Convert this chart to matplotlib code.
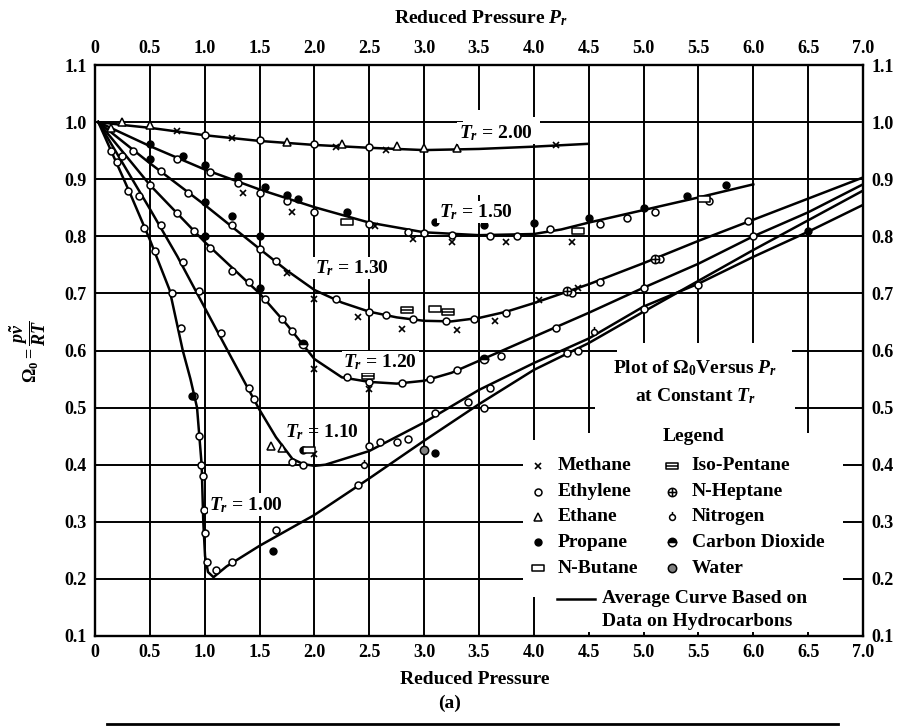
import numpy as np
import matplotlib
matplotlib.use("Agg")
import matplotlib.pyplot as plt
from matplotlib.path import Path
from matplotlib.lines import Line2D

plt.rcParams['font.family'] = 'Liberation Serif'
plt.rcParams['font.weight'] = 'bold'
plt.rcParams['mathtext.fontset'] = 'custom'
plt.rcParams['mathtext.rm'] = 'Liberation Serif:bold'
plt.rcParams['mathtext.it'] = 'Liberation Serif:italic:bold'
plt.rcParams['mathtext.bf'] = 'Liberation Serif:bold'

# ---- average curves (Pr, Omega) ----
pr_200 = [0.03, 0.25, 0.5, 1.0, 1.5, 2.0, 2.5, 3.0, 3.5, 4.0, 4.5]
om_200 = [1.0, 0.995, 0.99, 0.977, 0.967, 0.960, 0.955, 0.951, 0.953, 0.957, 0.962]

pr_150 = [0.03, 0.5, 1.0, 1.5, 2.0, 2.5, 3.0, 3.5, 4.0, 4.25, 4.5, 5.0, 5.5, 6.0]
om_150 = [1.0, 0.958, 0.917, 0.882, 0.851, 0.824, 0.807, 0.802, 0.804, 0.812, 0.824, 0.846, 0.868, 0.891]

pr_130 = [0.03, 0.5, 1.0, 1.5, 1.75, 2.0, 2.25, 2.5, 2.75, 3.0, 3.25, 3.5, 3.75, 4.0,
          4.5, 5.0, 5.5, 6.0, 6.5, 7.0]
om_130 = [1.0, 0.928, 0.855, 0.778, 0.74, 0.706, 0.684, 0.668, 0.658, 0.652, 0.651, 0.657, 0.668, 0.683,
          0.716, 0.753, 0.792, 0.829, 0.866, 0.903]

pr_120 = [0.03, 0.5, 1.0, 1.5, 1.75, 2.0, 2.25, 2.5, 2.75, 3.0, 3.25, 3.5, 4.0, 4.5,
          5.0, 5.5, 6.0, 6.5, 7.0]
om_120 = [1.0, 0.89, 0.79, 0.70, 0.645, 0.585, 0.553, 0.545, 0.542, 0.547, 0.561, 0.582, 0.624, 0.666,
          0.710, 0.752, 0.800, 0.842, 0.891]

pr_110 = [0.03, 0.5, 0.75, 1.0, 1.25, 1.5, 1.65, 1.8, 1.9, 2.0, 2.1, 2.3, 2.5, 3.0, 3.5,
          4.0, 4.5, 5.0, 5.5, 6.0, 6.5, 7.0]
om_110 = [1.0, 0.848, 0.765, 0.675, 0.585, 0.496, 0.448, 0.41, 0.401, 0.398, 0.40, 0.412, 0.424, 0.474, 0.531,
          0.578, 0.621, 0.677, 0.717, 0.764, 0.808, 0.855]

pr_100 = [0.03, 0.32, 0.5, 0.68, 0.8, 0.87, 0.93, 0.972, 0.987, 1.003, 1.03, 1.08, 1.2, 1.5,
          2.0, 2.5, 3.0, 3.5, 4.0, 4.5, 5.0, 5.5, 6.0, 6.5, 7.0]
om_100 = [1.0, 0.875, 0.794, 0.706, 0.60, 0.55, 0.50, 0.40, 0.30, 0.24, 0.212, 0.203, 0.222, 0.258,
          0.312, 0.376, 0.442, 0.506, 0.566, 0.613, 0.668, 0.722, 0.776, 0.828, 0.88]

# ---- data points by gas ----
methane_pr = [0.75, 1.25, 2.2, 2.65, 4.2, 1.35, 1.8, 2.55, 2.9, 3.25, 3.75, 4.35,
              1.75, 2.0, 2.4, 2.8, 3.3, 3.65, 4.05, 4.4, 2.0, 2.5, 2.0]
methane_om = [0.985, 0.972, 0.957, 0.952, 0.960, 0.875, 0.842, 0.818, 0.795, 0.79, 0.79, 0.79,
              0.735, 0.69, 0.658, 0.637, 0.636, 0.652, 0.688, 0.71, 0.567, 0.532, 0.418]

ethylene_pr = [1.0, 1.5, 2.0, 2.5,
               0.75, 1.05, 1.3, 1.5, 1.75, 2.0, 2.5, 2.85, 3.0, 3.25, 3.6, 3.85, 4.15, 4.6, 4.85, 5.1, 5.6,
               0.35, 0.6, 0.85, 1.25, 1.5, 1.65, 2.2, 2.5, 2.65, 2.9, 3.2, 3.45, 3.75, 4.35, 4.6, 5.15, 5.95,
               0.25, 0.5, 0.75, 0.9, 1.05, 1.25, 1.4, 1.55, 1.7, 1.8, 2.3, 2.5, 2.8, 3.05, 3.3, 3.7, 4.2, 5.0, 6.0,
               0.2, 0.4, 0.6, 0.8, 0.95, 1.15, 1.4, 1.45, 1.8, 1.9, 2.5, 2.6, 2.75, 2.85, 3.1, 3.6, 4.3, 5.0,
               0.15, 0.3, 0.45, 0.55, 0.7, 0.78, 0.9, 0.95, 0.97, 0.98, 0.99, 1.0, 1.02, 1.1, 1.25, 1.65,
               2.4, 3.4, 3.55, 4.4, 5.5]
ethylene_om = [0.978, 0.968, 0.961, 0.956,
               0.936, 0.912, 0.893, 0.876, 0.862, 0.842, 0.822, 0.808, 0.805, 0.802, 0.80, 0.80, 0.812, 0.822, 0.832, 0.842, 0.862,
               0.95, 0.915, 0.876, 0.82, 0.778, 0.757, 0.69, 0.668, 0.662, 0.655, 0.652, 0.656, 0.665, 0.70, 0.72, 0.76, 0.826,
               0.94, 0.89, 0.84, 0.81, 0.78, 0.74, 0.72, 0.69, 0.655, 0.635, 0.553, 0.545, 0.543, 0.55, 0.565, 0.59, 0.64, 0.71, 0.80,
               0.93, 0.87, 0.82, 0.755, 0.705, 0.63, 0.535, 0.515, 0.405, 0.40, 0.432, 0.44, 0.44, 0.445, 0.49, 0.535, 0.595, 0.672,
               0.95, 0.88, 0.815, 0.775, 0.70, 0.64, 0.52, 0.45, 0.40, 0.38, 0.32, 0.28, 0.23, 0.215, 0.23, 0.285,
               0.365, 0.51, 0.50, 0.60, 0.715]

ethane_pr = [0.15, 0.25, 0.5, 1.75, 2.25, 2.75, 3.0, 3.3, 1.6, 1.7]
ethane_om = [0.99, 1.0, 0.995, 0.966, 0.961, 0.958, 0.955, 0.955, 0.432, 0.43]

propane_pr = [0.5, 0.8, 1.0, 1.3, 1.55, 1.75, 1.85, 2.3, 3.1, 3.55, 4.0, 4.5, 5.0, 5.4, 5.75,
              0.5, 1.0, 1.5, 1.25, 1.0, 1.5, 1.9, 3.1, 1.62, 0.88, 6.5]
propane_om = [0.962, 0.94, 0.925, 0.905, 0.887, 0.872, 0.865, 0.842, 0.825, 0.82, 0.823, 0.832, 0.85, 0.87, 0.89,
              0.935, 0.86, 0.80, 0.835, 0.80, 0.71, 0.425, 0.42, 0.248, 0.52, 0.81]

butane_pr = [2.3, 3.1, 4.4, 5.55, 1.95]
butane_om = [0.825, 0.672, 0.81, 0.865, 0.425]

isopentane_pr = [2.84, 3.22, 2.49]
isopentane_om = [0.671, 0.668, 0.555]

heptane_pr = [4.3, 5.1]
heptane_om = [0.705, 0.76]

nitrogen_pr = [4.55, 2.45]
nitrogen_om = [0.632, 0.40]

co2_pr = [1.9, 3.55]
co2_om = [0.612, 0.585]

water_pr = [3.0]
water_om = [0.425]

# ---- grid gaps (where the printed chart leaves white space) ----
xgrid = [0.5, 1.0, 1.5, 2.0, 2.5, 3.0, 3.5, 4.0, 4.5, 5.0, 5.5, 6.0, 6.5]
ygrid = [0.2, 0.3, 0.4, 0.5, 0.6, 0.7, 0.8, 0.9, 1.0]
vgaps = {3.5: [(0.872, 1.021)], 4.0: [(0.962, 1.009), (0.168, 0.443)],
         4.5: [(0.107, 0.455)], 5.0: [(0.107, 0.613)], 5.5: [(0.107, 0.613)],
         6.0: [(0.107, 0.613)], 6.5: [(0.107, 0.455)]}
hgaps = {1.0: [(3.35, 4.06)], 0.6: [(4.76, 6.35)], 0.5: [(4.56, 6.38)],
         0.4: [(3.9, 6.82)], 0.3: [(3.9, 6.82)], 0.2: [(3.9, 6.82)]}


def pieces(lo, hi, gaps):
    out, start = [], lo
    for a, b in sorted(gaps):
        out.append((start, a))
        start = b
    out.append((start, hi))
    return out


fig = plt.figure(figsize=(9.01, 7.26), dpi=100)
ax = fig.add_axes([95 / 901, 1 - 636 / 726, (863 - 95) / 901, (636 - 65) / 726])
ax.set_xlim(0, 7)
ax.set_ylim(0.1, 1.1)

for xv in xgrid:
    for a, b in pieces(0.1, 1.1, vgaps.get(xv, [])):
        ax.plot([xv, xv], [a, b], color='k', lw=1.4, zorder=1, solid_capstyle='butt')
for yv in ygrid:
    for a, b in pieces(0, 7, hgaps.get(yv, [])):
        ax.plot([a, b], [yv, yv], color='k', lw=1.4, zorder=1, solid_capstyle='butt')

for px, om in [(pr_200, om_200), (pr_150, om_150), (pr_130, om_130),
               (pr_120, om_120), (pr_110, om_110), (pr_100, om_100)]:
    ax.plot(px, om, color='k', lw=1.8, zorder=2)

# markers
rect = Path([(-1, -0.55), (1, -0.55), (1, 0.55), (-1, 0.55), (-1, -0.55)],
            [Path.MOVETO, Path.LINETO, Path.LINETO, Path.LINETO, Path.CLOSEPOLY])
rect_bar = Path.make_compound_path(rect, Path([(-1, 0), (1, 0)]))
circ_plus = Path.make_compound_path(Path.unit_circle(), Path([(-1, 0), (1, 0)]), Path([(0, -1), (0, 1)]))
circ_stem = Path.make_compound_path(Path.unit_circle(), Path([(0, 1), (0, 1.9)]))

styles = {
    'Methane': dict(marker='x', ms=5, mec='k', mew=1.2),
    'Ethylene': dict(marker='o', ms=5, mfc='white', mec='k', mew=1.1),
    'Ethane': dict(marker='^', ms=6, mfc='white', mec='k', mew=1.1),
    'Propane': dict(marker='o', ms=5, mfc='k', mec='k'),
    'N-Butane': dict(marker=rect, ms=8, mfc='white', mec='k', mew=1.1),
    'Iso-Pentane': dict(marker=rect_bar, ms=8, mfc='white', mec='k', mew=1.1),
    'N-Heptane': dict(marker=circ_plus, ms=6, mfc='white', mec='k', mew=1.1),
    'Nitrogen': dict(marker=circ_stem, ms=8, mfc='white', mec='k', mew=1.1),
    'Carbon Dioxide': dict(marker='o', ms=6, mfc='k', mfcalt='white', fillstyle='top', mec='k', mew=1.1),
    'Water': dict(marker='o', ms=6, mfc='0.5', mec='k', mew=1.1),
}
data = {
    'Methane': (methane_pr, methane_om), 'Ethylene': (ethylene_pr, ethylene_om),
    'Ethane': (ethane_pr, ethane_om), 'Propane': (propane_pr, propane_om),
    'N-Butane': (butane_pr, butane_om), 'Iso-Pentane': (isopentane_pr, isopentane_om),
    'N-Heptane': (heptane_pr, heptane_om), 'Nitrogen': (nitrogen_pr, nitrogen_om),
    'Carbon Dioxide': (co2_pr, co2_om), 'Water': (water_pr, water_om),
}
for name, (px, om) in data.items():
    ax.plot(px, om, ls='none', zorder=3, **styles[name])

# Tr labels
wbox = dict(fc='white', ec='none', pad=1.0)
fs = 14
ax.text(3.65, 0.981, r'$T_r$ = 2.00', fontsize=fs, ha='center', va='center', bbox=wbox, zorder=4)
ax.text(3.47, 0.843, r'$T_r$ = 1.50', fontsize=fs, ha='center', va='center', bbox=wbox, zorder=4)
ax.text(2.34, 0.744, r'$T_r$ = 1.30', fontsize=fs, ha='center', va='center', bbox=wbox, zorder=4)
ax.text(2.6, 0.58, r'$T_r$ = 1.20', fontsize=fs, ha='center', va='center', bbox=wbox, zorder=4)
ax.text(2.07, 0.457, r'$T_r$ = 1.10', fontsize=fs, ha='center', va='center', zorder=4)
ax.text(1.38, 0.33, r'$T_r$ = 1.00', fontsize=fs, ha='center', va='center', bbox=wbox, zorder=4)

ax.text(5.47, 0.569, r'Plot of $\Omega_0$Versus $P_r$', fontsize=fs, ha='center', va='center')
ax.text(5.47, 0.52, r'at Constant $T_r$', fontsize=fs, ha='center', va='center')
ax.text(5.46, 0.449, 'Legend', fontsize=fs, ha='center', va='center')

# legend block
left_col = ['Methane', 'Ethylene', 'Ethane', 'Propane', 'N-Butane']
right_col = ['Iso-Pentane', 'N-Heptane', 'Nitrogen', 'Carbon Dioxide', 'Water']
rows_y = [0.398, 0.353, 0.309, 0.264, 0.219]
for name, yv in zip(left_col, rows_y):
    ax.plot([4.04], [yv], ls='none', zorder=3, **styles[name])
    ax.text(4.22, yv, name, fontsize=fs, ha='left', va='center')
for name, yv in zip(right_col, rows_y):
    ax.plot([5.26], [yv], ls='none', zorder=3, **styles[name])
    ax.text(5.44, yv, name, fontsize=fs, ha='left', va='center')
ax.plot([4.21, 4.56], [0.165, 0.165], color='k', lw=1.8)
ax.text(4.62, 0.165, 'Average Curve Based on', fontsize=fs, ha='left', va='center')
ax.text(4.62, 0.125, 'Data on Hydrocarbons', fontsize=fs, ha='left', va='center')

# axes ticks
xt = np.arange(0, 7.01, 0.5)
ax.set_xticks(xt)
ax.set_xticklabels(['0'] + ['%.1f' % v for v in xt[1:]])
yt = np.arange(0.1, 1.11, 0.1)
ax.set_yticks(yt)
ax.set_yticklabels(['%.1f' % v for v in yt])
ax.tick_params(which='both', length=0, top=True, right=True, labeltop=True,
               labelright=True, labelsize=13, pad=6)
for sp in ax.spines.values():
    sp.set_linewidth(1.7)

fig.text(481 / 901, 1 - 18 / 726, r'Reduced Pressure $P_r$', fontsize=14, ha='center', va='center')
fig.text(475 / 901, 1 - 680 / 726, 'Reduced Pressure', fontsize=14, ha='center', va='center')
fig.text(450 / 901, 1 - 703 / 726, '(a)', fontsize=14, ha='center', va='center')
fig.text(28 / 901, 1 - 352 / 726, r'$\Omega_0 = \dfrac{p\tilde{v}}{RT}$', fontsize=13,
         rotation=90, ha='center', va='center')
fig.add_artist(Line2D([107 / 901, 838 / 901], [1 - 724 / 726] * 2, color='k', lw=2))

fig.savefig('out.png', dpi=100)
